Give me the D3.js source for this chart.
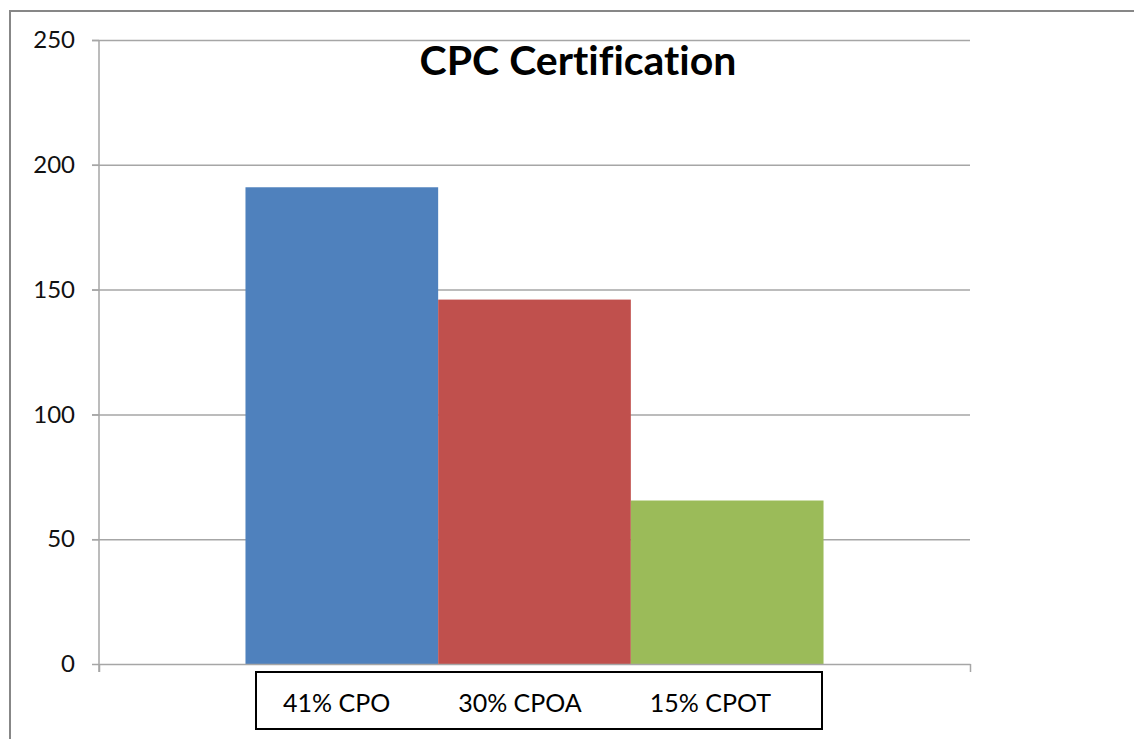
<!DOCTYPE html>
<html>
<head>
<meta charset="utf-8">
<script src="https://cdn.jsdelivr.net/npm/d3@7"></script>
<style>
    html, body { margin: 0; padding: 0; background: #fff; }
    svg { display: block; }
    text { font-variant-ligatures: none; }
    .tick text { font-family: Lato, "Open Sans", sans-serif; font-size: 24px; fill: #111; }
</style>
</head>
<body>
<svg id="chart" width="1134" height="739"></svg>
<script>
// Data
const CATEGORIES = ["CPC"];
const SERIES = ["41% CPO", "30% CPOA", "15% CPOT"];
const VALUES = [191, 146, 65.5];
const COLORS = ["#4F81BD", "#C0504D", "#9BBB59"];
const Y_TICKS = [0, 50, 100, 150, 200, 250];
const TITLE = "CPC Certification";

const svg = d3.select("#chart");

// Outer chart frame (runs past the right and bottom edges)
svg.append("rect")
    .attr("x", 10)
    .attr("y", 11)
    .attr("width", 1200)
    .attr("height", 800)
    .attr("fill", "none")
    .attr("stroke", "#878787")
    .attr("stroke-width", 2);

const plot = { left: 99, right: 970, top: 40, bottom: 664 };

const y = d3.scaleLinear()
    .domain([0, 250])
    .range([plot.bottom, plot.top]);

// One category; 150% gap width split on both sides
const x = d3.scaleBand()
    .domain(CATEGORIES)
    .range([plot.left, plot.right])
    .paddingInner(0)
    .paddingOuter(0.2534);

const xSeries = d3.scaleBand()
    .domain(SERIES)
    .range([0, x.bandwidth()]);

// Gridlines
const grid = svg.append("g")
    .attr("transform", "translate(" + plot.right + " 0)")
    .call(d3.axisLeft(y).tickValues(Y_TICKS.slice(1)).tickSize(plot.right - plot.left + 7).tickFormat(""));
grid.select(".domain").remove();
grid.selectAll("line").attr("stroke", "#a6a6a6").attr("stroke-width", 1.5);

// Bars
svg.append("g")
    .selectAll("rect")
    .data(SERIES.map((s, i) => ({ series: s, value: VALUES[i], color: COLORS[i] })))
    .join("rect")
    .attr("x", (d) => x(CATEGORIES[0]) + xSeries(d.series))
    .attr("y", (d) => y(d.value))
    .attr("width", xSeries.bandwidth())
    .attr("height", (d) => y(0) - y(d.value))
    .attr("fill", (d) => d.color);

// Y axis
const yAxis = svg.append("g")
    .attr("transform", "translate(" + plot.left + " 0)")
    .call(d3.axisLeft(y).tickValues(Y_TICKS).tickSize(7).tickPadding(17));
yAxis.select(".domain").attr("stroke", "#a6a6a6").attr("stroke-width", 1.5)
    .attr("d", "M0," + plot.top + "V" + (plot.bottom + 8));
yAxis.selectAll("line").attr("stroke", "#a6a6a6").attr("stroke-width", 1.5);

// X axis (baseline with end ticks)
const xEdge = d3.scaleLinear().domain([0, 1]).range([plot.left, plot.right]);
const xAxis = svg.append("g")
    .attr("transform", "translate(0 " + plot.bottom + ")")
    .call(d3.axisBottom(xEdge).tickValues([0, 1]).tickSize(8).tickFormat("").tickSizeOuter(0));
xAxis.select(".domain").attr("stroke", "#a6a6a6").attr("stroke-width", 1.5);
xAxis.selectAll("line").attr("stroke", "#a6a6a6").attr("stroke-width", 1.5);

// Title
svg.append("text")
    .attr("x", 578)
    .attr("y", 75)
    .attr("text-anchor", "middle")
    .style("font-family", "Lato, 'Open Sans', sans-serif")
    .style("font-weight", "bold")
    .style("font-size", "41px")
    .attr("fill", "#000")
    .text(TITLE);

// Legend (text only, in a black box)
const legend = svg.append("g");
legend.append("rect")
    .attr("x", 256)
    .attr("y", 672)
    .attr("width", 566)
    .attr("height", 57)
    .attr("fill", "#fff")
    .attr("stroke", "#000")
    .attr("stroke-width", 2);

let cursor = 283;
SERIES.forEach((s) => {
    const t = legend.append("text")
        .attr("x", cursor)
        .attr("y", 712)
        .style("font-family", "Lato, 'Open Sans', sans-serif")
        .style("font-size", "25px")
        .attr("fill", "#000")
        .text(s);
    cursor += t.node().getComputedTextLength() + 68;
});
</script>
</body>
</html>
